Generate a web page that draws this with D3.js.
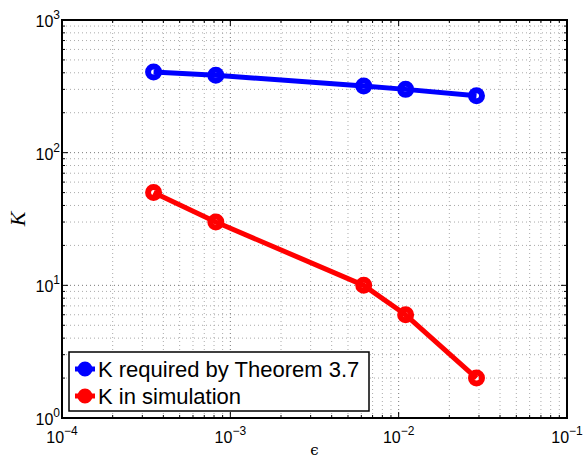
<!DOCTYPE html>
<html>
<head>
<meta charset="utf-8">
<script src="https://cdn.jsdelivr.net/npm/d3@7"></script>
<style>
  body { margin: 0; background: #fff; }
  text { font-family: "Liberation Sans", Arial, sans-serif; }
</style>
</head>
<body>
<div id="chart"></div>
<script>
var epsilon = [3.5e-4, 8.2e-4, 6.2e-3, 1.1e-2, 2.9e-2];
var kTheorem = [405, 383, 318, 300, 269];
var kSim = [50, 30, 10, 6, 2];
var seriesNames = ["K required by Theorem 3.7", "K in simulation"];
var seriesColors = ["#0000ff", "#ff0000"];
var xDecades = [-4, -3, -2, -1];
var yDecades = [0, 1, 2, 3];

var width = 584, height = 458;
var margin = {left: 62, right: 17, top: 20, bottom: 40};

var svg = d3.select("#chart").append("svg")
  .attr("width", width)
  .attr("height", height);

var x = d3.scaleLog()
  .domain([1e-4, 1e-1])
  .range([margin.left, width - margin.right]);
var y = d3.scaleLog()
  .domain([1, 1e3])
  .range([height - margin.bottom, margin.top]);

var x0 = x.range()[0], x1 = x.range()[1];
var y0 = y.range()[0], y1 = y.range()[1];

// tick values: majors and minors
function logTicks(decades) {
  var all = [];
  for (var i = 0; i < decades.length - 1; i++) {
    for (var m = 1; m < 10; m++) all.push(m * Math.pow(10, decades[i]));
  }
  all.push(Math.pow(10, decades[decades.length - 1]));
  return all;
}
var xTicks = logTicks(xDecades);
var yTicks = logTicks(yDecades);
function isMajor(v) { return Math.abs(Math.log10(v) - Math.round(Math.log10(v))) < 1e-9; }

// grid
var grid = svg.append("g");
grid.selectAll(".gx").data(xTicks).enter().append("line")
  .attr("x1", d => x(d)).attr("x2", d => x(d))
  .attr("y1", y0).attr("y2", y1)
  .attr("stroke", d => isMajor(d) ? "#777" : "#aaa")
  .attr("stroke-width", 1)
  .attr("stroke-dasharray", "1,3");
grid.selectAll(".gy").data(yTicks).enter().append("line")
  .attr("y1", d => y(d)).attr("y2", d => y(d))
  .attr("x1", x0).attr("x2", x1)
  .attr("stroke", d => isMajor(d) ? "#777" : "#aaa")
  .attr("stroke-width", 1)
  .attr("stroke-dasharray", "1,3");

// ticks (inside, on all four sides)
var ticks = svg.append("g").attr("stroke", "#000").attr("stroke-width", 1);
xTicks.forEach(function(d) {
  var len = isMajor(d) ? 6 : 3;
  ticks.append("line").attr("x1", x(d)).attr("x2", x(d)).attr("y1", y0).attr("y2", y0 - len);
  ticks.append("line").attr("x1", x(d)).attr("x2", x(d)).attr("y1", y1).attr("y2", y1 + len);
});
yTicks.forEach(function(d) {
  var len = isMajor(d) ? 6 : 3;
  ticks.append("line").attr("y1", y(d)).attr("y2", y(d)).attr("x1", x0).attr("x2", x0 + len);
  ticks.append("line").attr("y1", y(d)).attr("y2", y(d)).attr("x1", x1).attr("x2", x1 - len);
});

// frame
svg.append("rect")
  .attr("x", x0).attr("y", y1)
  .attr("width", x1 - x0).attr("height", y0 - y1)
  .attr("fill", "none").attr("stroke", "#000").attr("stroke-width", 2);

// tick labels
xDecades.forEach(function(p) {
  var t = svg.append("text")
    .attr("x", x(Math.pow(10, p)))
    .attr("y", y0 + 25)
    .attr("text-anchor", "middle")
    .attr("font-size", 16);
  t.append("tspan").text("10");
  t.append("tspan").attr("dy", -8).attr("font-size", 12).text("\u2212" + Math.abs(p));
});
yDecades.forEach(function(p) {
  var t = svg.append("text")
    .attr("x", x0 - 2)
    .attr("y", y(Math.pow(10, p)) + 7)
    .attr("text-anchor", "end")
    .attr("font-size", 16);
  t.append("tspan").text("10");
  t.append("tspan").attr("dy", -8).attr("font-size", 12).text(p);
});

// axis labels
svg.append("text")
  .attr("transform", "translate(25," + ((y0 + y1) / 2) + ") rotate(-90)")
  .attr("text-anchor", "middle")
  .style("font-family", "'Liberation Serif', 'Times New Roman', serif")
  .style("font-style", "italic")
  .attr("font-size", 22)
  .text("K");
svg.append("text")
  .attr("x", (x0 + x1) / 2)
  .attr("y", 455)
  .attr("text-anchor", "middle")
  .style("font-family", "'DejaVu Serif', serif")
  .attr("font-size", 15)
  .text("\u03F5");

// series
var series = [kTheorem, kSim];
var line = d3.line()
  .x(d => x(d[0]))
  .y(d => y(d[1]));

series.forEach(function(vals, i) {
  var pts = epsilon.map((e, j) => [e, vals[j]]);
  var g = svg.append("g");
  g.append("path")
    .datum(pts)
    .attr("d", line)
    .attr("fill", "none")
    .attr("stroke", seriesColors[i])
    .attr("stroke-width", 5)
    .attr("stroke-linejoin", "round");
  g.selectAll("circle").data(pts).enter().append("circle")
    .attr("cx", d => x(d[0]))
    .attr("cy", d => y(d[1]))
    .attr("r", 5.5)
    .attr("fill", "none")
    .attr("stroke", seriesColors[i])
    .attr("stroke-width", 6);
});

// legend
var legend = svg.append("g");
legend.append("rect")
  .attr("x", 69).attr("y", 352)
  .attr("width", 300).attr("height", 59)
  .attr("fill", "#fff").attr("stroke", "#000").attr("stroke-width", 1.5);
seriesNames.forEach(function(name, i) {
  var cy = 369 + i * 27;
  legend.append("line")
    .attr("x1", 75).attr("x2", 95)
    .attr("y1", cy).attr("y2", cy)
    .attr("stroke", seriesColors[i]).attr("stroke-width", 5);
  legend.append("circle")
    .attr("cx", 85).attr("cy", cy).attr("r", 6)
    .attr("fill", seriesColors[i])
    .attr("stroke", seriesColors[i]).attr("stroke-width", 3);
  legend.append("text")
    .attr("x", 98).attr("y", cy + 8)
    .attr("font-size", 22)
    .text(name);
});
</script>
</body>
</html>
